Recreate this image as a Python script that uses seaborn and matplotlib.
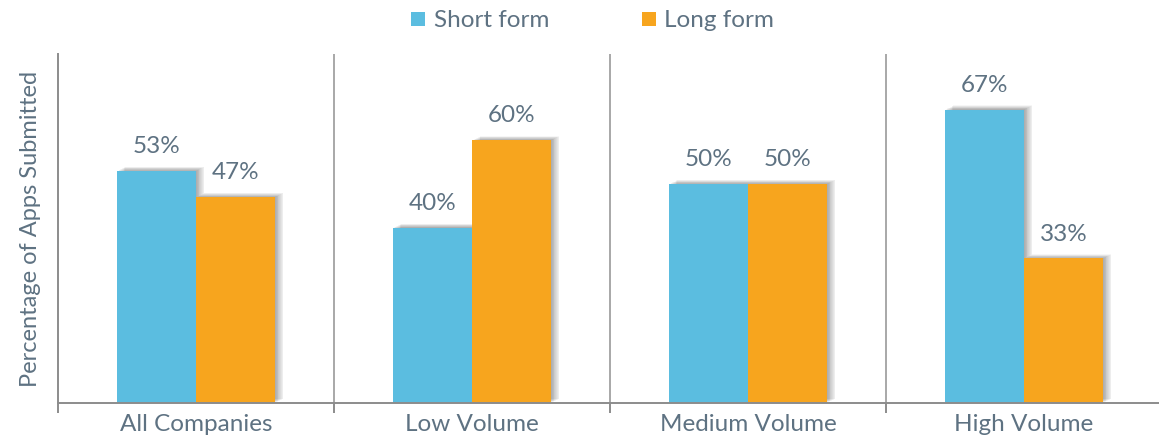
import matplotlib
matplotlib.use("Agg")
import matplotlib.pyplot as plt
import matplotlib.patheffects as pe
from matplotlib.lines import Line2D
import seaborn as sns
import pandas as pd

# Share of applications submitted, by company volume and form type
groups = ["All Companies", "Low Volume", "Medium Volume", "High Volume"]
short_form = [53, 40, 50, 67]
long_form = [47, 60, 50, 33]
series = ["Short form", "Long form"]
colors = ["#5BBDE0", "#F7A51E"]

text_color = "#5E7282"
axis_color = "#8C8C8C"

df = pd.DataFrame({
    "group": groups * 2,
    "form": [series[0]] * 4 + [series[1]] * 4,
    "value": short_form + long_form,
})

sns.set_theme(style="white")
plt.rcParams["font.family"] = ["Lato", "DejaVu Sans"]

fig = plt.figure(figsize=(11.59, 4.37), dpi=100)
ax = fig.add_axes([58 / 1159, 34 / 437, 1104 / 1159, 349 / 437])

sns.barplot(data=df, x="group", y="value", hue="form", hue_order=series,
            palette=colors, width=0.573, saturation=1, ax=ax, legend=False,
            linewidth=0)

# soft drop shadow behind each bar
shadow = [pe.SimplePatchShadow(offset=(0.6 * k, 0.3 * k), shadow_rgbFace="#000000", alpha=0.035)
          for k in range(1, 11)]
for bar in ax.patches:
    bar.set_path_effects(shadow + [pe.Normal()])

for cont in ax.containers:
    ax.bar_label(cont, labels=[f"{v:.0f}%" for v in cont.datavalues],
                 padding=10, fontsize=17.5, color=text_color)

ax.set_ylim(0, 79.7)
ax.set_xlim(-0.5, 3.5)
ax.set_yticks([])

# group separators
for x in (0.5, 1.5, 2.5):
    ax.axvline(x, color="#A8A8A8", lw=1.4, zorder=0)

ax.set_xticks([-0.5, 0.5, 1.5, 2.5, 3.5], minor=True)
ax.tick_params(axis="x", which="minor", length=7, width=1.4, color=axis_color,
               direction="out", bottom=True)
ax.tick_params(axis="x", which="major", length=0, pad=8, labelsize=17.5,
               labelcolor=text_color)

for side in ("top", "right"):
    ax.spines[side].set_visible(False)
for side in ("left", "bottom"):
    ax.spines[side].set_color(axis_color)
    ax.spines[side].set_linewidth(1.4)

ax.set_xlabel("")
ax.set_ylabel("Percentage of Apps Submitted", fontsize=17, color=text_color, labelpad=12)

handles = [Line2D([0], [0], marker="s", linestyle="", markersize=10.5,
                  markerfacecolor=c, markeredgewidth=0) for c in colors]
fig.legend(handles, series, loc="center", bbox_to_anchor=(0.509, 0.952), ncol=2,
           frameon=False, fontsize=17.5, labelcolor=text_color, columnspacing=3.6,
           handletextpad=0.15, handlelength=1.0)

fig.savefig("out.png", dpi=100, facecolor="white")
